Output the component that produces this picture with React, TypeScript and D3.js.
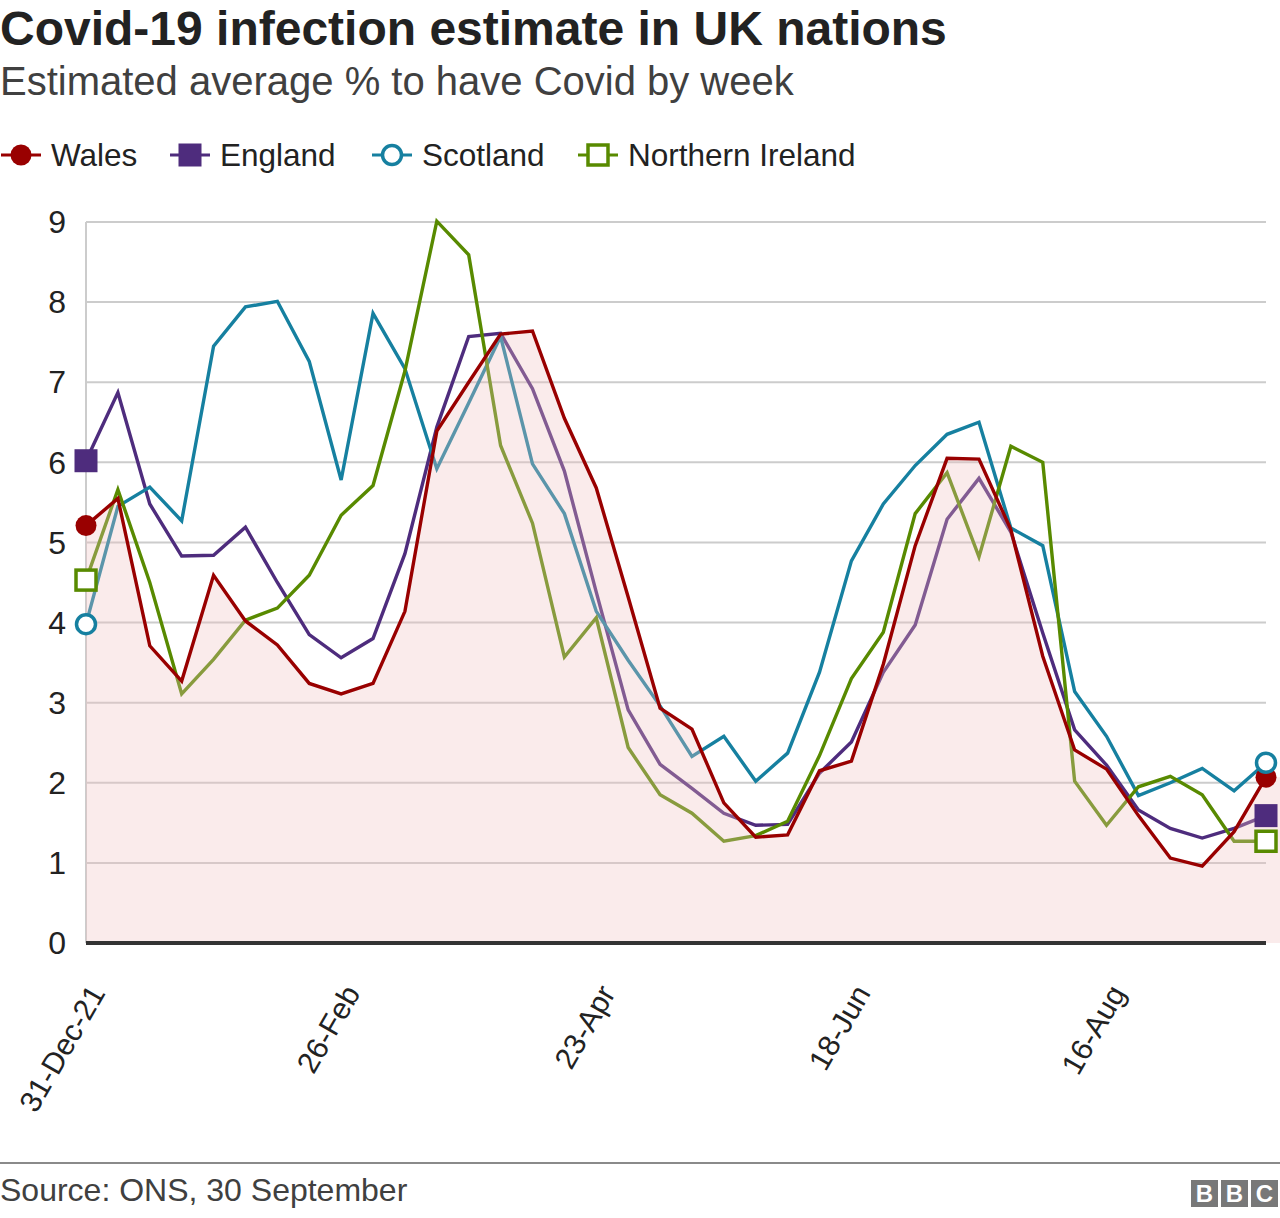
import React from 'react';
import * as d3 from 'd3';

// ---------- DATA ----------
const tickLabels = ["31-Dec-21", "26-Feb", "23-Apr", "18-Jun", "16-Aug"];
const tickIndices = [0, 8, 16, 24, 32];
const yTicks = [0, 1, 2, 3, 4, 5, 6, 7, 8, 9];

const wales = [5.21, 5.55, 3.71, 3.27, 4.59, 4.02, 3.72, 3.24, 3.11, 3.24, 4.14, 6.39, 7.0, 7.6, 7.64, 6.55, 5.68, 4.32, 2.93, 2.67, 1.75, 1.32, 1.35, 2.15, 2.27, 3.48, 4.96, 6.05, 6.04, 5.16, 3.58, 2.41, 2.17, 1.59, 1.06, 0.96, 1.39, 2.07];
const england = [6.02, 6.87, 5.48, 4.83, 4.84, 5.19, 4.5, 3.85, 3.56, 3.8, 4.86, 6.44, 7.57, 7.61, 6.92, 5.89, 4.38, 2.91, 2.23, 1.93, 1.62, 1.47, 1.48, 2.12, 2.51, 3.38, 3.97, 5.29, 5.8, 5.13, 3.87, 2.66, 2.22, 1.66, 1.43, 1.31, 1.43, 1.59];
const scotland = [3.98, 5.45, 5.69, 5.27, 7.45, 7.94, 8.01, 7.26, 5.78, 7.86, 7.17, 5.92, 6.74, 7.57, 5.98, 5.36, 4.14, 3.53, 2.96, 2.33, 2.58, 2.02, 2.37, 3.38, 4.77, 5.48, 5.96, 6.35, 6.5, 5.18, 4.96, 3.14, 2.58, 1.84, 2.0, 2.18, 1.9, 2.25];
const northernIreland = [4.53, 5.66, 4.5, 3.11, 3.54, 4.03, 4.18, 4.59, 5.34, 5.71, 7.14, 9.01, 8.59, 6.21, 5.24, 3.57, 4.06, 2.44, 1.85, 1.62, 1.27, 1.34, 1.52, 2.34, 3.3, 3.88, 5.36, 5.87, 4.82, 6.2, 6.0, 2.02, 1.47, 1.95, 2.08, 1.85, 1.27, 1.27];

const seriesNames = ["Wales", "England", "Scotland", "Northern Ireland"];

// ---------- STYLE ----------
const W = 1280;
const H = 1218;
const FONT = '"Liberation Sans", Arial, Helvetica, sans-serif';
const colors: Record<string, string> = {
  Wales: '#990000',
  England: '#4e2c7d',
  Scotland: '#1680a0',
  'Northern Ireland': '#588a00',
};
const markerType: Record<string, { shape: 'circle' | 'square'; filled: boolean }> = {
  Wales: { shape: 'circle', filled: true },
  England: { shape: 'square', filled: true },
  Scotland: { shape: 'circle', filled: false },
  'Northern Ireland': { shape: 'square', filled: false },
};
const legendX = [21, 190, 392, 598];

const x = d3.scaleLinear().domain([0, wales.length - 1]).range([86, 1266]);
const y = d3.scaleLinear().domain([0, 9]).range([943, 222]);

function Marker({ name, cx, cy }: { name: string; cx: number; cy: number }) {
  const m = markerType[name];
  const c = colors[name];
  if (m.shape === 'circle') {
    return m.filled ? (
      <circle cx={cx} cy={cy} r={10.5} fill={c} />
    ) : (
      <circle cx={cx} cy={cy} r={9.5} fill="#fff" stroke={c} strokeWidth={3.5} />
    );
  }
  return m.filled ? (
    <rect x={cx - 11.5} y={cy - 11.5} width={23} height={23} fill={c} />
  ) : (
    <rect x={cx - 10} y={cy - 10} width={20} height={20} fill="#fff" stroke={c} strokeWidth={3.5} />
  );
}

export default function App() {
  const data: Record<string, number[]> = {
    Wales: wales,
    England: england,
    Scotland: scotland,
    'Northern Ireland': northernIreland,
  };
  const line = d3
    .line<number>()
    .x((_, i) => x(i))
    .y((d) => y(d));

  const areaPts: [number, number][] = wales.map((d, i) => [x(i), y(d)]);
  areaPts.push([W, y(wales[wales.length - 1])]);
  const area = d3
    .area<[number, number]>()
    .x((d) => d[0])
    .y0(y(0))
    .y1((d) => d[1]);

  const last = wales.length - 1;
  const under = ['England', 'Scotland', 'Northern Ireland'];
  const LW = 3.4;

  return (
    <svg
      width={W}
      height={H}
      style={{ position: 'absolute', left: 0, top: 0, background: '#fff' }}
      fontFamily={FONT}
    >
      <rect width={W} height={H} fill="#fff" />
      {/* Title */}
      <text x={0} y={45} fontSize={48} fontWeight="bold" fill="#222">
        Covid-19 infection estimate in UK nations
      </text>
      <text x={0} y={95} fontSize={40} fill="#404040">
        Estimated average % to have Covid by week
      </text>

      {/* Legend */}
      {seriesNames.map((name, i) => (
        <g key={name}>
          <line x1={legendX[i] - 20} x2={legendX[i] + 20} y1={155} y2={155} stroke={colors[name]} strokeWidth={3} />
          <Marker name={name} cx={legendX[i]} cy={155} />
          <text x={legendX[i] + 30} y={166} fontSize={31.5} fill="#222">
            {name}
          </text>
        </g>
      ))}

      {/* Gridlines */}
      {yTicks.map((t) => (
        <g key={t}>
          {t > 0 && <line x1={x(0)} x2={x(last)} y1={y(t)} y2={y(t)} stroke="#cccccc" strokeWidth={2} />}
          <text x={66} y={y(t)} dy="0.35em" textAnchor="end" fontSize={32} fill="#222">
            {t}
          </text>
        </g>
      ))}
      <line x1={x(0)} x2={x(0)} y1={y(9)} y2={y(0)} stroke="#cccccc" strokeWidth={2} />

      {/* Lines under the area */}
      {under.map((name) => (
        <path
          key={name}
          d={line(data[name]) || ''}
          fill="none"
          stroke={colors[name]}
          strokeWidth={LW}
          strokeLinejoin="miter"
        />
      ))}

      {/* Wales area */}
      <path d={area(areaPts) || ''} fill="#f0c0c0" fillOpacity={0.32} />

      {/* Wales line */}
      <path d={line(wales) || ''} fill="none" stroke={colors.Wales} strokeWidth={LW} />

      {/* Baseline */}
      <line x1={x(0)} x2={x(last)} y1={y(0)} y2={y(0)} stroke="#333" strokeWidth={4} />

      {/* Markers at first and last points */}
      {seriesNames.map((name) => (
        <g key={name}>
          <Marker name={name} cx={x(0)} cy={y(data[name][0])} />
          <Marker name={name} cx={x(last)} cy={y(data[name][last])} />
        </g>
      ))}

      {/* X tick labels */}
      {tickIndices.map((ti, k) => {
        const ax = x(ti) + 20;
        const ay = 993;
        return (
          <text
            key={ti}
            x={ax}
            y={ay}
            textAnchor="end"
            fontSize={30}
            fill="#222"
            transform={`rotate(-60, ${ax}, ${ay})`}
          >
            {tickLabels[k]}
          </text>
        );
      })}

      {/* Footer */}
      <line x1={0} x2={W} y1={1163} y2={1163} stroke="#8a8a8a" strokeWidth={2} />
      <text x={0} y={1201} fontSize={32} fill="#404040">
        Source: ONS, 30 September
      </text>
      {['B', 'B', 'C'].map((ch, i) => (
        <g key={i}>
          <rect x={1191 + i * 30} y={1180} width={27} height={27} fill="#787878" />
          <text
            x={1191 + i * 30 + 13.5}
            y={1202}
            textAnchor="middle"
            fontSize={24}
            fontWeight="bold"
            fill="#fff"
          >
            {ch}
          </text>
        </g>
      ))}
    </svg>
  );
}
